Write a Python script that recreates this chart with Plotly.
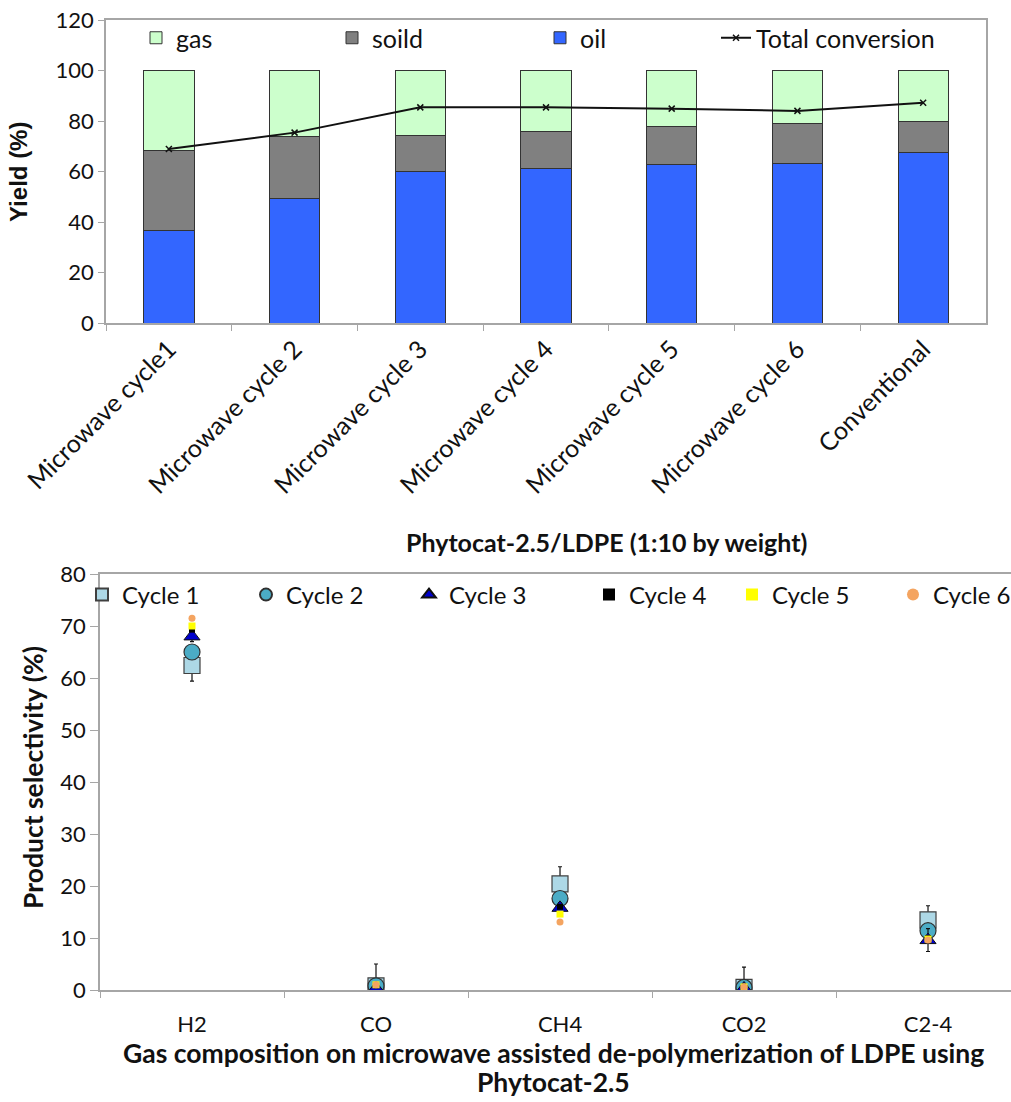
import plotly.graph_objects as go

# ---- top panel: product yields per run ----
runs = ["Microwave cycle1", "Microwave cycle 2", "Microwave cycle 3", "Microwave cycle 4",
        "Microwave cycle 5", "Microwave cycle 6", "Conventional"]
oil = [36.7, 49.3, 59.9, 61.2, 62.9, 63.3, 67.4]
solid = [31.5, 24.7, 14.5, 14.8, 15.1, 15.9, 12.6]
gas = [31.8, 26.0, 25.6, 24.0, 22.0, 20.8, 20.0]
total_conversion = [68.9, 75.4, 85.4, 85.4, 84.9, 84.0, 87.2]

# ---- bottom panel: gas product selectivity per cycle ----
gases = ["H2", "CO", "CH4", "CO2", "C2-4"]
cycle1 = [62.4, 0.8, 20.4, 0.5, 13.5]
cycle2 = [65.0, 0.8, 17.6, 0.5, 11.4]
cycle3 = [68.0, 0.3, 15.8, 0.3, 9.6]
cycle4 = [69.3, 0.9, 16.0, 0.6, 10.0]
cycle5 = [70.0, 1.0, 14.6, 0.6, 9.8]
cycle6 = [71.5, 1.0, 13.1, 0.6, 9.6]
cycle1_err = [3.0, 4.2, 3.3, 3.9, 2.7]
cycle3_err = [1.0, 0.0, 1.0, 0.0, 2.2]

FONT = "Lato"
INK = "#111111"
W, H = 1011, 1102

fig = go.Figure()

# each legend entry gets its own legend box so the entries can be spaced freely
top_legend_x = {"gas": 136, "soild": 332, "oil": 540, "Total conversion": 716}
bottom_legend_x = {"Cycle 1": 82, "Cycle 2": 246, "Cycle 3": 409,
                   "Cycle 4": 589, "Cycle 5": 732, "Cycle 6": 893}
legend_ids = {}
for i, name in enumerate(list(top_legend_x) + list(bottom_legend_x)):
    legend_ids[name] = "legend" if i == 0 else f"legend{i + 1}"

bar_line = dict(color="#333333", width=1)
fig.add_trace(go.Bar(x=runs, y=oil, name="oil", marker=dict(color="#3366ff", line=bar_line),
                     xaxis="x", yaxis="y", legend=legend_ids["oil"]))
fig.add_trace(go.Bar(x=runs, y=solid, name="soild", marker=dict(color="#808080", line=bar_line),
                     xaxis="x", yaxis="y", legend=legend_ids["soild"]))
fig.add_trace(go.Bar(x=runs, y=gas, name="gas", marker=dict(color="#ccffcc", line=bar_line),
                     xaxis="x", yaxis="y", legend=legend_ids["gas"]))
fig.add_trace(go.Scatter(x=runs, y=total_conversion, name="Total conversion", mode="lines+markers",
                         line=dict(color=INK, width=2),
                         marker=dict(symbol="x-thin", size=6, line=dict(color=INK, width=1.5)),
                         xaxis="x", yaxis="y", legend=legend_ids["Total conversion"]))

cycle_styles = [
    ("Cycle 1", cycle1, dict(symbol="square", size=16, color="#add8e6", line=dict(color="#404040", width=1.2)), cycle1_err),
    ("Cycle 2", cycle2, dict(symbol="circle", size=16, color="#4bacc6", line=dict(color="#303030", width=1.2)), None),
    ("Cycle 3", cycle3, dict(symbol="triangle-up", size=14, color="#0000cc", line=dict(color="#101010", width=1)), cycle3_err),
    ("Cycle 4", cycle4, dict(symbol="square", size=6, color="#000000"), None),
    ("Cycle 5", cycle5, dict(symbol="square", size=7, color="#ffff00"), None),
    ("Cycle 6", cycle6, dict(symbol="circle", size=7, color="#f4a460"), None),
]
for name, vals, mk, err in cycle_styles:
    kw = {}
    if err is not None:
        kw["error_y"] = dict(type="data", array=err, visible=True, color=INK,
                             thickness=1.2, width=2)
    fig.add_trace(go.Scatter(x=gases, y=vals, name=name, mode="markers", marker=mk,
                             xaxis="x2", yaxis="y2", legend=legend_ids[name], **kw))

frame = "#a6a6a6"
tick_font = dict(family=FONT, size=22, color=INK)

layout = dict(
    width=W, height=H,
    margin=dict(l=0, r=0, t=0, b=0, autoexpand=False),
    paper_bgcolor="white", plot_bgcolor="white",
    barmode="stack", bargap=0.6,
    showlegend=True,
    xaxis=dict(domain=[106 / W, 986 / W], anchor="y", type="category", automargin=False,
               showline=True, linecolor=frame, linewidth=1.5, mirror=True,
               ticks="outside", tickson="boundaries", ticklen=6, tickcolor=frame,
               tickangle=-45, tickfont=dict(family=FONT, size=25, color=INK),
               showgrid=False),
    yaxis=dict(domain=[1 - 323 / H, 1 - 20 / H], anchor="x", range=[0, 120], automargin=False,
               tickvals=[0, 20, 40, 60, 80, 100, 120],
               showline=True, linecolor=frame, linewidth=1.5, mirror=True,
               ticks="outside", ticklen=6, tickcolor=frame,
               tickfont=tick_font, showgrid=False, zeroline=False),
    xaxis2=dict(domain=[100 / W, 1.0], anchor="y2", type="category", range=[-0.5, 4.451],
                automargin=False, ticklabelstandoff=14,
                showline=True, linecolor=frame, linewidth=1.5, mirror=True,
                ticks="outside", tickson="boundaries", ticklen=6, tickcolor=frame,
                tickfont=tick_font, showgrid=False),
    yaxis2=dict(domain=[1 - 990 / H, 1 - 574 / H], anchor="x2", range=[0, 80], automargin=False,
                tickvals=[0, 10, 20, 30, 40, 50, 60, 70, 80],
                showline=True, linecolor=frame, linewidth=1.5,
                ticks="outside", ticklen=8, tickcolor=frame,
                tickfont=tick_font, showgrid=False, zeroline=False),
)

for name, px in top_legend_x.items():
    layout[legend_ids[name]] = dict(x=px / W, y=1 - 38 / H, xanchor="left", yanchor="middle",
                                    orientation="h", bgcolor="rgba(0,0,0,0)",
                                    font=dict(family=FONT, size=25, color=INK))
for name, px in bottom_legend_x.items():
    layout[legend_ids[name]] = dict(x=px / W, y=1 - 595 / H, xanchor="left", yanchor="middle",
                                    orientation="h", bgcolor="rgba(0,0,0,0)",
                                    itemsizing="constant",
                                    font=dict(family=FONT, size=24, color=INK))

fig.update_layout(**layout)

ann = [
    dict(text="<b>Yield (%)</b>", x=18 / W, y=1 - 172 / H, textangle=-90,
         font=dict(family="Liberation Sans", size=24, color=INK)),
    dict(text="<b>Phytocat-2.5/LDPE (1:10 by weight)</b>", x=606 / W, y=1 - 542 / H,
         font=dict(family=FONT, size=25, color=INK)),
    dict(text="<b>Product selectivity (%)</b>", x=33 / W, y=1 - 778 / H, textangle=-90,
         font=dict(family=FONT, size=26.5, color=INK)),
    dict(text="<b>Gas composition on microwave assisted de-polymerization of LDPE using</b>",
         x=553 / W, y=1 - 1053 / H, font=dict(family=FONT, size=26.5, color=INK)),
    dict(text="<b>Phytocat-2.5</b>", x=553 / W, y=1 - 1082 / H,
         font=dict(family=FONT, size=26.5, color=INK)),
]
for a in ann:
    fig.add_annotation(xref="paper", yref="paper", showarrow=False,
                       xanchor="center", yanchor="middle", **a)

fig.write_html("out.html")
